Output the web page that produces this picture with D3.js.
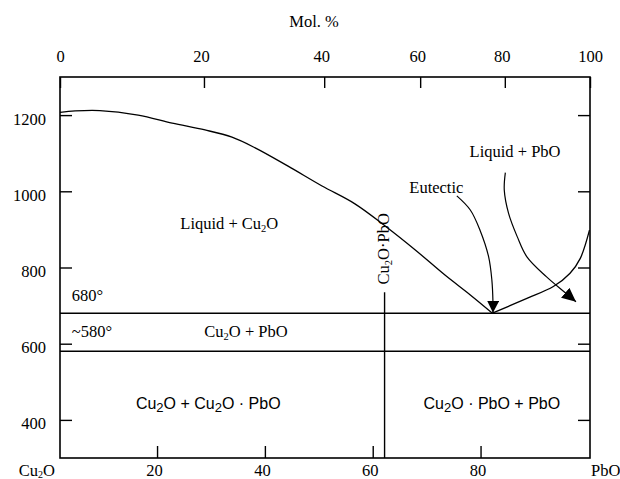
<!DOCTYPE html>
<html>
<head>
<meta charset="utf-8">
<script src="https://cdn.jsdelivr.net/npm/d3@7"></script>
<style>
    body { margin: 0; background: #fff; }
    svg { display: block; }
    .serif { font-family: 'Liberation Serif', 'Times New Roman', serif; font-size: 16.5px; }
    .sans { font-family: 'Liberation Sans', Arial, sans-serif; font-size: 16px; }
</style>
</head>
<body>
<div id="chart"></div>
<script>
'use strict'

// Axis ticks. Bottom axis is wt. % PbO, top axis is mol. %.
let wtTicks = [20, 40, 60, 80];
let molTicks = [0, 20, 40, 60, 80, 100];
let molTickAtWt = [2, 28.7, 51.0, 68.8, 84.5, 100.3];
let tempTicks = [400, 600, 800, 1000, 1200];

// Phase boundaries as [wt. % PbO, temperature].
let liquidusCu2O = [
    [2, 1207], [4.8, 1211], [9.4, 1212], [16.5, 1200], [22.8, 1179], [28.9, 1161],
    [33.9, 1142], [38.2, 1114], [44.3, 1066], [50.6, 1014], [56.7, 967], [62.3, 909],
    [67.9, 846], [73.4, 780], [78.1, 728], [82.2, 680]
];
let liquidusPbO = [[82.2, 680], [88.6, 719], [93.5, 750], [96.6, 785], [98.5, 824], [100.2, 898]];
let eutecticTemp = 680;
let lowerTemp = 580;
let compoundWt = 62.2;
let compoundTop = 735;

// Annotation arrows.
let eutecticArrow = [[75.6, 988], [78.1, 951], [79.9, 898], [81.5, 828], [82.1, 767], [82.3, 710], [82.3, 681]];
let pbOArrow = [[84.6, 1049], [84.4, 1003], [85.2, 942], [86.8, 881], [88.6, 828], [92.2, 776], [95.6, 735], [97.7, 710]];

// Labels.
let regionLabels = [
    {text: 'Liquid + Cu_2O', wt: 33.4, temp: 917},
    {text: 'Cu_2O + PbO', wt: 36.5, temp: 634},
    {text: 'Eutectic', wt: 71.8, temp: 1010},
    {text: 'Liquid + PbO', wt: 86.4, temp: 1104}
];
let tempLabels = [
    {text: '680°', wt: 4.2, temp: 728},
    {text: '~580°', wt: 4.2, temp: 634}
];
let solidLabels = [
    {text: 'Cu_2O + Cu_2O · PbO', wt: 29.5, temp: 444},
    {text: 'Cu_2O · PbO + PbO', wt: 82.1, temp: 444}
];
let compoundLabel = {text: 'Cu_2O·PbO', wt: 61.9, temp: 849};

let margin = {top: 77, right: 30, bottom: 21, left: 60},
    width = 620 - margin.left - margin.right,
    height = 479 - margin.top - margin.bottom;

let svg = d3.select('#chart')
    .append('svg')
        .attr('width', width + margin.left + margin.right)
        .attr('height', height + margin.top + margin.bottom);

let g = svg.append('g')
    .attr('transform', `translate(${margin.left}, ${margin.top})`);

// Scales.
let x = d3.scaleLinear().domain([2, 100.3]).range([0, width]);
let y = d3.scaleLinear().domain([300, 1300]).range([height, 0]);
let xMol = d3.scaleLinear().domain(molTicks).range(molTickAtWt.map(x));
let fmt = d3.format('d');

// Text with "_2" subscripts.
function rich(text, str, subSize, shift) {
    str.split(/_(\d)/).forEach((part, i) => {
        if (!part) return;
        let t = text.append('tspan').text(part);
        if (i % 2) t.attr('font-size', subSize).attr('baseline-shift', shift);
    });
}

function axisStyle(sel) {
    sel.attr('font-family', null).attr('font-size', null).attr('class', 'serif');
    sel.select('.domain').remove();
    sel.selectAll('.tick line').attr('stroke', '#000').attr('stroke-width', 1.4);
    sel.selectAll('.tick text').attr('fill', '#000');
}

// Axes.
g.append('g')
    .attr('transform', `translate(0, ${height})`)
    .call(d3.axisBottom(x).tickValues(wtTicks).tickFormat(fmt).tickSizeInner(-12).tickSizeOuter(0).tickPadding(6))
    .call(axisStyle)
    .selectAll('.tick text').attr('dx', -3);

g.append('g')
    .call(d3.axisTop(xMol).tickValues(molTicks).tickFormat(fmt).tickSizeInner(-11).tickSizeOuter(0).tickPadding(15))
    .call(axisStyle)
    .selectAll('.tick text')
        .filter(d => d > 0 && d < 100)
        .attr('dx', -3);

g.append('g')
    .call(d3.axisLeft(y).tickValues(tempTicks).tickFormat(fmt).tickSizeInner(-12).tickSizeOuter(0).tickPadding(14))
    .call(axisStyle)
    .selectAll('.tick text').attr('dy', '0.55em');

g.append('g')
    .attr('transform', `translate(${width}, 0)`)
    .call(d3.axisRight(y).tickValues(tempTicks).tickSizeInner(-12).tickSizeOuter(0).tickFormat(''))
    .call(axisStyle)
    .selectAll('.tick text').remove();

// Frame.
g.append('rect')
    .attr('width', width)
    .attr('height', height)
    .attr('fill', 'none')
    .attr('stroke', '#000')
    .attr('stroke-width', 1.6);

// Axis end labels and title.
let cu2oEnd = g.append('text').attr('class', 'serif')
    .attr('x', -5).attr('y', height + 12).attr('dy', '0.35em').attr('text-anchor', 'end');
rich(cu2oEnd, 'Cu_2O', '10px', '-18%');

g.append('text').attr('class', 'serif')
    .attr('x', width + 1).attr('y', height + 12).attr('dy', '0.35em')
    .text('PbO');

svg.append('text').attr('class', 'serif')
    .attr('x', 314).attr('y', 21).attr('dy', '0.35em').attr('text-anchor', 'middle')
    .text('Mol. %');

// Phase lines.
let line = d3.line()
    .x(d => x(d[0]))
    .y(d => y(d[1]))
    .curve(d3.curveCatmullRom);

[liquidusCu2O, liquidusPbO].forEach(d => {
    g.append('path')
        .attr('d', line(d))
        .attr('fill', 'none')
        .attr('stroke', '#000')
        .attr('stroke-width', 1.3);
});

[eutecticTemp, lowerTemp].forEach(t => {
    g.append('line')
        .attr('x1', 0).attr('x2', width)
        .attr('y1', y(t)).attr('y2', y(t))
        .attr('stroke', '#000')
        .attr('stroke-width', 1.5);
});

g.append('line')
    .attr('x1', x(compoundWt)).attr('x2', x(compoundWt))
    .attr('y1', y(300)).attr('y2', y(compoundTop))
    .attr('stroke', '#000')
    .attr('stroke-width', 1.4);

// Arrow heads.
let defs = svg.append('defs');
[['head-small', 12, 12], ['head-big', 14, 13]].forEach(([id, len, wid]) => {
    defs.append('marker')
        .attr('id', id)
        .attr('viewBox', `0 0 ${len} ${wid}`)
        .attr('refX', len)
        .attr('refY', wid / 2)
        .attr('markerWidth', len)
        .attr('markerHeight', wid)
        .attr('markerUnits', 'userSpaceOnUse')
        .attr('orient', 'auto')
        .append('path')
            .attr('d', `M0,0L${len},${wid / 2}L0,${wid}Z`)
            .attr('fill', '#000');
});

[[eutecticArrow, 'head-small'], [pbOArrow, 'head-big']].forEach(([d, head]) => {
    g.append('path')
        .attr('d', line(d))
        .attr('fill', 'none')
        .attr('stroke', '#000')
        .attr('stroke-width', 1.2)
        .attr('marker-end', `url(#${head})`);
});

// Labels.
regionLabels.forEach(d => {
    let t = g.append('text').attr('class', 'serif')
        .attr('x', x(d.wt)).attr('y', y(d.temp)).attr('dy', '0.35em')
        .attr('text-anchor', 'middle');
    rich(t, d.text, '10.5px', '-28%');
});

tempLabels.forEach(d => {
    g.append('text').attr('class', 'serif')
        .attr('x', x(d.wt)).attr('y', y(d.temp)).attr('dy', '0.35em')
        .text(d.text);
});

solidLabels.forEach(d => {
    let t = g.append('text').attr('class', 'sans')
        .attr('x', x(d.wt)).attr('y', y(d.temp)).attr('dy', '0.35em')
        .attr('text-anchor', 'middle');
    rich(t, d.text, '13px', '-25%');
});

let comp = g.append('text').attr('class', 'serif')
    .attr('transform', `translate(${x(compoundLabel.wt)}, ${y(compoundLabel.temp)}) rotate(-90)`)
    .attr('dy', '0.35em')
    .attr('text-anchor', 'middle');
rich(comp, compoundLabel.text, '10.5px', '-28%');
</script>
</body>
</html>
